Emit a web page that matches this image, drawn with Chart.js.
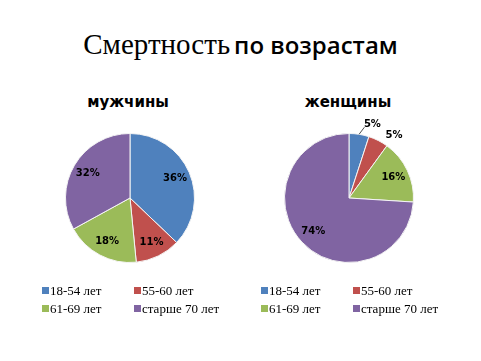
<!DOCTYPE html>
<html>
<head>
<meta charset="utf-8">
<script src="https://cdn.jsdelivr.net/npm/chart.js@4"></script>
<style>
  html, body { margin: 0; padding: 0; background: #fff; }
  body { width: 481px; height: 361px; position: relative; overflow: hidden; }
  #title { position: absolute; left: 0; width: 481px; top: 29px; text-align: center; white-space: nowrap; line-height: 30px; }
  #title .a { font-family: "Liberation Serif", serif; font-size: 29px; }
  #title .b { font-family: "Open Sans", sans-serif; font-size: 24px; font-weight: 600; }
  .sub { position: absolute; top: 92px; width: 160px; text-align: center; font-family: "DejaVu Sans", sans-serif; font-weight: bold; font-size: 15px; line-height: 20px; }
  .box { position: absolute; }
  .legend { position: absolute; top: 282px; font-family: "Liberation Serif", serif; font-size: 13px; }
  .legend .item { position: absolute; white-space: nowrap; line-height: 18px; }
  .legend .sw { display: inline-block; width: 7px; height: 7px; margin-right: 1px; vertical-align: 1px; }
</style>
</head>
<body>
<div id="title"><span class="a">Смертность</span> <span class="b">по возрастам</span></div>
<div class="sub" style="left:48px">мужчины</div>
<div class="sub" style="left:268px">женщины</div>
<div class="box" style="left:40px;top:111px;width:180px;height:174px"><canvas id="js-pie-men"></canvas></div>
<div class="box" style="left:259px;top:111px;width:180px;height:174px"><canvas id="js-pie-women"></canvas></div>
<div class="legend" id="legend-men" style="left:42px"></div>
<div class="legend" id="legend-women" style="left:261px"></div>
<script>
var categories = ["18-54 лет", "55-60 лет", "61-69 лет", "старше 70 лет"]
var men = [36, 11, 18, 32]
var women = [5, 5, 16, 74]
var colors = ["#4F81BD", "#C0504D", "#9BBB59", "#8064A2"]

// percent labels drawn on/near each slice
var pctLabels = {
  id: "pctLabels",
  afterDatasetsDraw: function (chart) {
    var c = chart.ctx
    var meta = chart.getDatasetMeta(0)
    var data = chart.data.datasets[0].data
    c.save()
    c.font = "bold 10px 'DejaVu Sans', sans-serif"
    c.fillStyle = "#000"
    c.textAlign = "center"
    c.textBaseline = "middle"
    meta.data.forEach(function (arc, i) {
      var mid = (arc.startAngle + arc.endAngle) / 2
      var r = arc.outerRadius
      var frac = (arc.endAngle - arc.startAngle) / (2 * Math.PI)
      var x, y
      if (frac < 0.08) {
        var a = mid + 0.15
        x = arc.x + Math.cos(a) * r * 1.2
        y = arc.y + Math.sin(a) * r * 1.2
        if (i === 0) {
          c.strokeStyle = "#000"
          c.lineWidth = 0.7
          c.beginPath()
          c.moveTo(arc.x + Math.cos(mid) * r, arc.y + Math.sin(mid) * r)
          c.lineTo(x - 8, y + 3)
          c.stroke()
        }
      } else {
        x = arc.x + Math.cos(mid) * r * 0.76
        y = arc.y + Math.sin(mid) * r * 0.76
      }
      c.fillText(data[i] + "%", x, y)
    })
    c.restore()
  }
}

function makePie(id, values) {
  return new Chart(document.getElementById(id), {
    type: "pie",
    data: {
      labels: categories,
      datasets: [{
        data: values,
        backgroundColor: colors,
        borderColor: "#f4f4f4",
        borderWidth: 1
      }]
    },
    options: {
      responsive: true,
      maintainAspectRatio: false,
      animation: false,
      layout: { padding: { top: 22, bottom: 22, left: 25, right: 25 } },
      plugins: {
        legend: { display: false },
        tooltip: { enabled: false }
      }
    },
    plugins: [pctLabels]
  })
}

var chart_men = makePie("js-pie-men", men)
var chart_women = makePie("js-pie-women", women)

function buildLegend(id) {
  var el = document.getElementById(id)
  var pos = [[0, 0], [92, 0], [0, 18], [92, 18]]
  categories.forEach(function (label, i) {
    var d = document.createElement("div")
    d.className = "item"
    d.style.left = pos[i][0] + "px"
    d.style.top = pos[i][1] + "px"
    d.innerHTML = '<span class="sw" style="background:' + colors[i] + '"></span>' + label
    el.appendChild(d)
  })
}
buildLegend("legend-men")
buildLegend("legend-women")
</script>
</body>
</html>
